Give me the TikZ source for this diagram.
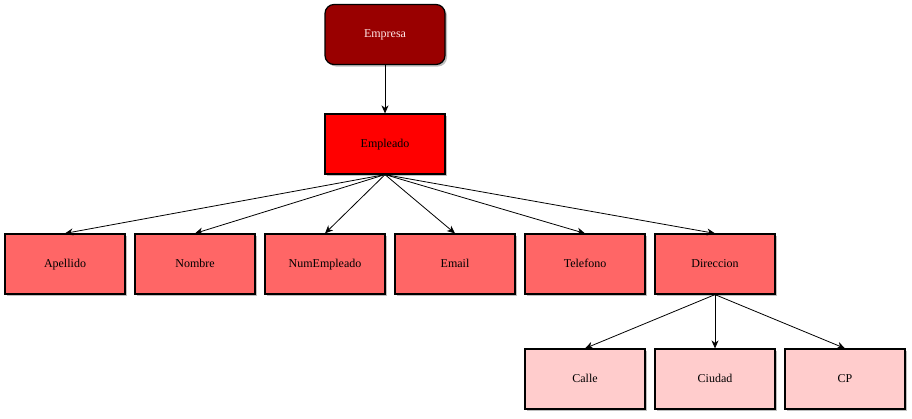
\documentclass[tikz,border=0pt]{standalone}
\usepackage{fontspec}
\setmainfont{Liberation Serif}
\usetikzlibrary{arrows.meta,shadows}
\begin{document}
\begin{tikzpicture}[x=1pt,y=-1pt,
  box/.style={draw=black,line width=1.2pt,minimum width=120pt,minimum height=60pt,inner sep=0pt,text height=8.5pt,text depth=2.5pt,font=\fontsize{12pt}{14pt}\selectfont,
    drop shadow={opacity=0.25,shadow xshift=2pt,shadow yshift=-2pt,fill=black}},
  root/.style={box,fill=rootc,rounded corners=9pt,text=white!90!red},
  mid/.style={box,fill=midc},
  leaf/.style={box,fill=leafc},
  sub/.style={box,fill=subc},
  conn/.style={draw=black,line width=0.8pt,-{Stealth[length=8pt,width=7pt,inset=2.5pt]}}]
\definecolor{rootc}{HTML}{990000}
\definecolor{midc}{HTML}{FF0000}
\definecolor{leafc}{HTML}{FF6666}
\definecolor{subc}{HTML}{FFCCCC}
\useasboundingbox (0,0) rectangle (912,418);
\node[root] (empresa) at (385,34.5) {Empresa};
\node[mid] (empleado) at (385,144) {Empleado};
\node[leaf] (apellido) at (65,264) {Apellido};
\node[leaf] (nombre) at (195,264) {Nombre};
\node[leaf] (numemp) at (325,264) {NumEmpleado};
\node[leaf] (email) at (455,264) {Email};
\node[leaf] (telefono) at (585,264) {Telefono};
\node[leaf] (direccion) at (715,264) {Direccion};
\node[sub] (calle) at (585,379) {Calle};
\node[sub] (ciudad) at (715,379) {Ciudad};
\node[sub] (cp) at (845,379) {CP};
\draw[conn] (empresa.south) -- (empleado.north);
\foreach \n in {apellido,nombre,numemp,email,telefono,direccion}
  \draw[conn] (empleado.south) -- (\n.north);
\foreach \n in {calle,ciudad,cp}
  \draw[conn] (direccion.south) -- (\n.north);
\end{tikzpicture}
\end{document}
